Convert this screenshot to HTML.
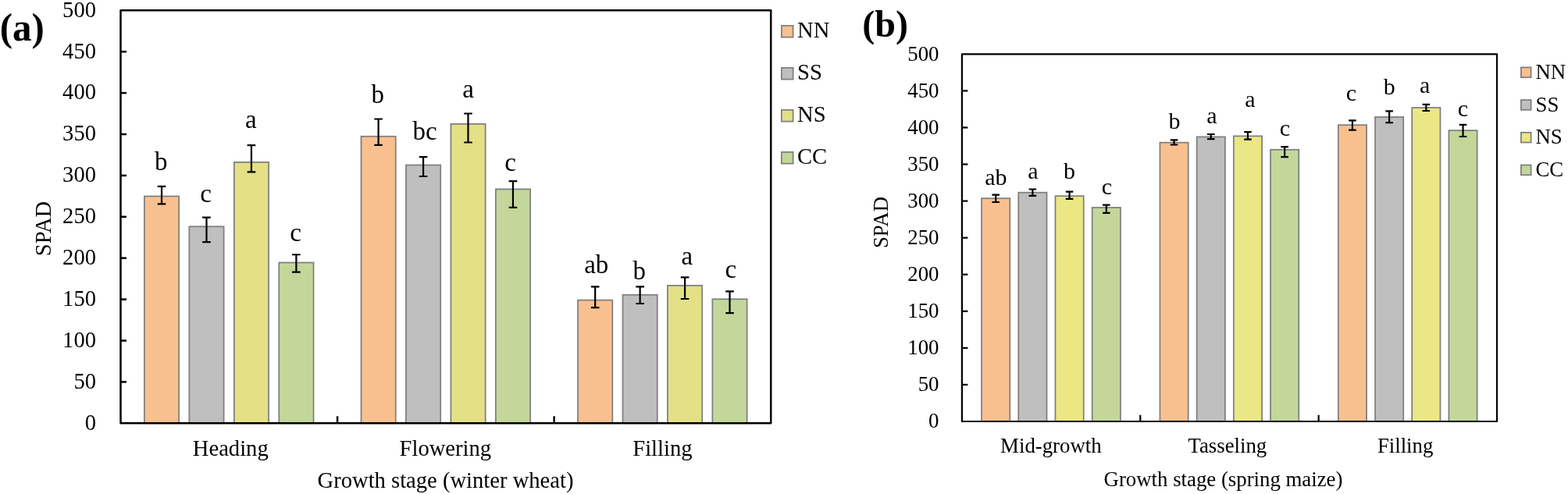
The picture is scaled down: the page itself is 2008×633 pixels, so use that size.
<!DOCTYPE html>
<html><head><meta charset="utf-8"><title>SPAD chart</title>
<style>html,body{margin:0;padding:0;background:#fff;width:2008px;height:633px;overflow:hidden}svg{display:block}</style>
</head><body>
<svg width="2008" height="633" viewBox="0 0 2008 633" font-family="'Liberation Serif', 'Times New Roman', serif" fill="#000">
<rect width="2008" height="633" fill="#fff"/>
<rect x="184.91" y="251.47" width="44.25" height="290.82" fill="#F9C08F" stroke="#7F7F7F" stroke-width="1.75"/>
<rect x="242.36" y="290.27" width="44.25" height="252.02" fill="#BFBFBF" stroke="#7F7F7F" stroke-width="1.75"/>
<rect x="299.81" y="207.88" width="44.25" height="334.42" fill="#E3E086" stroke="#7F7F7F" stroke-width="1.75"/>
<rect x="357.26" y="336.48" width="44.25" height="205.82" fill="#C3D79B" stroke="#7F7F7F" stroke-width="1.75"/>
<rect x="462.48" y="174.78" width="44.25" height="367.52" fill="#F9C08F" stroke="#7F7F7F" stroke-width="1.75"/>
<rect x="519.93" y="211.47" width="44.25" height="330.82" fill="#BFBFBF" stroke="#7F7F7F" stroke-width="1.75"/>
<rect x="577.38" y="158.88" width="44.25" height="383.42" fill="#E3E086" stroke="#7F7F7F" stroke-width="1.75"/>
<rect x="634.83" y="242.38" width="44.25" height="299.92" fill="#C3D79B" stroke="#7F7F7F" stroke-width="1.75"/>
<rect x="740.04" y="384.57" width="44.25" height="157.72" fill="#F9C08F" stroke="#7F7F7F" stroke-width="1.75"/>
<rect x="797.49" y="377.77" width="44.25" height="164.52" fill="#BFBFBF" stroke="#7F7F7F" stroke-width="1.75"/>
<rect x="854.94" y="365.88" width="44.25" height="176.42" fill="#E3E086" stroke="#7F7F7F" stroke-width="1.75"/>
<rect x="912.39" y="383.27" width="44.25" height="159.02" fill="#C3D79B" stroke="#7F7F7F" stroke-width="1.75"/>
<path d="M201.73 238.90H212.33M207.03 238.90V261.30M201.73 261.30H212.33" stroke="#000" stroke-width="2.2" fill="none"/>
<text x="206.20" y="217.50" text-anchor="middle" font-size="33">b</text>
<path d="M259.18 278.70H269.78M264.48 278.70V310.10M259.18 310.10H269.78" stroke="#000" stroke-width="2.2" fill="none"/>
<text x="263.70" y="258.80" text-anchor="middle" font-size="33">c</text>
<path d="M316.63 186.05H327.23M321.93 186.05V220.40M316.63 220.40H327.23" stroke="#000" stroke-width="2.2" fill="none"/>
<text x="321.30" y="163.90" text-anchor="middle" font-size="33">a</text>
<path d="M374.08 326.25H384.68M379.38 326.25V348.70M374.08 348.70H384.68" stroke="#000" stroke-width="2.2" fill="none"/>
<text x="378.70" y="308.80" text-anchor="middle" font-size="33">c</text>
<path d="M479.30 152.50H489.90M484.60 152.50V185.80M479.30 185.80H489.90" stroke="#000" stroke-width="2.2" fill="none"/>
<text x="483.80" y="131.60" text-anchor="middle" font-size="33">b</text>
<path d="M536.75 201.20H547.35M542.05 201.20V226.00M536.75 226.00H547.35" stroke="#000" stroke-width="2.2" fill="none"/>
<text x="544.20" y="178.50" text-anchor="middle" font-size="33">bc</text>
<path d="M594.20 145.50H604.80M599.50 145.50V182.50M594.20 182.50H604.80" stroke="#000" stroke-width="2.2" fill="none"/>
<text x="599.60" y="125.00" text-anchor="middle" font-size="33">a</text>
<path d="M651.65 232.10H662.25M656.95 232.10V265.90M651.65 265.90H662.25" stroke="#000" stroke-width="2.2" fill="none"/>
<text x="653.60" y="218.80" text-anchor="middle" font-size="33">c</text>
<path d="M756.87 367.40H767.47M762.17 367.40V394.10M756.87 394.10H767.47" stroke="#000" stroke-width="2.2" fill="none"/>
<text x="763.80" y="349.80" text-anchor="middle" font-size="33">ab</text>
<path d="M814.32 367.40H824.92M819.62 367.40V389.00M814.32 389.00H824.92" stroke="#000" stroke-width="2.2" fill="none"/>
<text x="818.70" y="358.30" text-anchor="middle" font-size="33">b</text>
<path d="M871.77 355.30H882.37M877.07 355.30V383.00M871.77 383.00H882.37" stroke="#000" stroke-width="2.2" fill="none"/>
<text x="879.80" y="339.40" text-anchor="middle" font-size="33">a</text>
<path d="M929.22 373.40H939.82M934.52 373.40V401.20M929.22 401.20H939.82" stroke="#000" stroke-width="2.2" fill="none"/>
<text x="935.80" y="355.50" text-anchor="middle" font-size="33">c</text>
<path d="M154.50 13.30H987.20V542.30H154.50Z" stroke="#000" stroke-width="2.5" fill="none" stroke-linejoin="round"/>
<text x="123.00" y="550.60" text-anchor="end" font-size="28.6">0</text>
<path d="M154.50 489.40H162.00" stroke="#000" stroke-width="2.5"/>
<text x="123.00" y="497.70" text-anchor="end" font-size="28.6">50</text>
<path d="M154.50 436.50H162.00" stroke="#000" stroke-width="2.5"/>
<text x="123.00" y="444.80" text-anchor="end" font-size="28.6">100</text>
<path d="M154.50 383.60H162.00" stroke="#000" stroke-width="2.5"/>
<text x="123.00" y="391.90" text-anchor="end" font-size="28.6">150</text>
<path d="M154.50 330.70H162.00" stroke="#000" stroke-width="2.5"/>
<text x="123.00" y="339.00" text-anchor="end" font-size="28.6">200</text>
<path d="M154.50 277.80H162.00" stroke="#000" stroke-width="2.5"/>
<text x="123.00" y="286.10" text-anchor="end" font-size="28.6">250</text>
<path d="M154.50 224.90H162.00" stroke="#000" stroke-width="2.5"/>
<text x="123.00" y="233.20" text-anchor="end" font-size="28.6">300</text>
<path d="M154.50 172.00H162.00" stroke="#000" stroke-width="2.5"/>
<text x="123.00" y="180.30" text-anchor="end" font-size="28.6">350</text>
<path d="M154.50 119.10H162.00" stroke="#000" stroke-width="2.5"/>
<text x="123.00" y="127.40" text-anchor="end" font-size="28.6">400</text>
<path d="M154.50 66.20H162.00" stroke="#000" stroke-width="2.5"/>
<text x="123.00" y="74.50" text-anchor="end" font-size="28.6">450</text>
<text x="123.00" y="21.60" text-anchor="end" font-size="28.6">500</text>
<path d="M432.07 542.30V533.30" stroke="#000" stroke-width="2.5"/>
<path d="M709.63 542.30V533.30" stroke="#000" stroke-width="2.5"/>
<text x="295.28" y="583.80" text-anchor="middle" font-size="28.6">Heading</text>
<text x="570.35" y="583.80" text-anchor="middle" font-size="28.6">Flowering</text>
<text x="848.42" y="583.80" text-anchor="middle" font-size="28.6">Filling</text>
<text x="570.50" y="625.00" text-anchor="middle" font-size="28.6" xml:space="preserve">Growth stage (winter wheat)</text>
<text x="0" y="0" transform="translate(65.00,293.00) rotate(-90)" text-anchor="middle" font-size="28.6">SPAD</text>
<rect x="1000.88" y="32.88" width="14.75" height="14.75" fill="#F9C08F" stroke="#7F7F7F" stroke-width="1.75"/>
<text x="1021.00" y="47.80" font-size="28.6">NN</text>
<rect x="1000.88" y="86.88" width="14.75" height="14.75" fill="#BFBFBF" stroke="#7F7F7F" stroke-width="1.75"/>
<text x="1021.00" y="101.80" font-size="28.6">SS</text>
<rect x="1000.88" y="140.88" width="14.75" height="14.75" fill="#E3E086" stroke="#7F7F7F" stroke-width="1.75"/>
<text x="1021.00" y="155.80" font-size="28.6">NS</text>
<rect x="1000.88" y="194.88" width="14.75" height="14.75" fill="#C3D79B" stroke="#7F7F7F" stroke-width="1.75"/>
<text x="1021.00" y="209.80" font-size="28.6">CC</text>
<text x="0" y="0" transform="translate(-0.30,51.90) scale(0.98,1)" font-size="50" font-weight="bold">(a)</text>
<rect x="1257.06" y="254.18" width="36.25" height="285.82" fill="#F9C08F" stroke="#7F7F7F" stroke-width="1.75"/>
<rect x="1304.26" y="246.68" width="36.25" height="293.32" fill="#BFBFBF" stroke="#7F7F7F" stroke-width="1.75"/>
<rect x="1351.46" y="251.18" width="36.25" height="288.82" fill="#EAE784" stroke="#7F7F7F" stroke-width="1.75"/>
<rect x="1398.66" y="265.98" width="36.25" height="274.02" fill="#C3D79B" stroke="#7F7F7F" stroke-width="1.75"/>
<rect x="1485.42" y="182.68" width="36.25" height="357.32" fill="#F9C08F" stroke="#7F7F7F" stroke-width="1.75"/>
<rect x="1532.62" y="175.38" width="36.25" height="364.62" fill="#BFBFBF" stroke="#7F7F7F" stroke-width="1.75"/>
<rect x="1579.83" y="174.38" width="36.25" height="365.62" fill="#EAE784" stroke="#7F7F7F" stroke-width="1.75"/>
<rect x="1627.03" y="191.78" width="36.25" height="348.23" fill="#C3D79B" stroke="#7F7F7F" stroke-width="1.75"/>
<rect x="1713.79" y="160.18" width="36.25" height="379.82" fill="#F9C08F" stroke="#7F7F7F" stroke-width="1.75"/>
<rect x="1760.99" y="149.97" width="36.25" height="390.02" fill="#BFBFBF" stroke="#7F7F7F" stroke-width="1.75"/>
<rect x="1808.19" y="137.97" width="36.25" height="402.02" fill="#EAE784" stroke="#7F7F7F" stroke-width="1.75"/>
<rect x="1855.39" y="167.18" width="36.25" height="372.82" fill="#C3D79B" stroke="#7F7F7F" stroke-width="1.75"/>
<path d="M1270.38 249.70H1279.98M1275.18 249.70V259.00M1270.38 259.00H1279.98" stroke="#000" stroke-width="2.2" fill="none"/>
<text x="1275.30" y="237.00" text-anchor="middle" font-size="30">ab</text>
<path d="M1317.58 242.50H1327.18M1322.38 242.50V250.90M1317.58 250.90H1327.18" stroke="#000" stroke-width="2.2" fill="none"/>
<text x="1322.90" y="229.40" text-anchor="middle" font-size="30">a</text>
<path d="M1364.78 245.60H1374.38M1369.58 245.60V254.80M1364.78 254.80H1374.38" stroke="#000" stroke-width="2.2" fill="none"/>
<text x="1369.40" y="229.40" text-anchor="middle" font-size="30">b</text>
<path d="M1411.98 262.70H1421.58M1416.78 262.70V272.90M1411.98 272.90H1421.58" stroke="#000" stroke-width="2.2" fill="none"/>
<text x="1417.40" y="249.00" text-anchor="middle" font-size="30">c</text>
<path d="M1498.75 179.40H1508.35M1503.55 179.40V185.50M1498.75 185.50H1508.35" stroke="#000" stroke-width="2.2" fill="none"/>
<text x="1504.00" y="165.10" text-anchor="middle" font-size="30">b</text>
<path d="M1545.95 172.00H1555.55M1550.75 172.00V178.20M1545.95 178.20H1555.55" stroke="#000" stroke-width="2.2" fill="none"/>
<text x="1552.00" y="157.80" text-anchor="middle" font-size="30">a</text>
<path d="M1593.15 169.20H1602.75M1597.95 169.20V178.70M1593.15 178.70H1602.75" stroke="#000" stroke-width="2.2" fill="none"/>
<text x="1601.00" y="137.30" text-anchor="middle" font-size="30">a</text>
<path d="M1640.35 188.20H1649.95M1645.15 188.20V201.10M1640.35 201.10H1649.95" stroke="#000" stroke-width="2.2" fill="none"/>
<text x="1645.40" y="173.70" text-anchor="middle" font-size="30">c</text>
<path d="M1727.12 154.30H1736.72M1731.92 154.30V166.70M1727.12 166.70H1736.72" stroke="#000" stroke-width="2.2" fill="none"/>
<text x="1730.50" y="129.10" text-anchor="middle" font-size="30">c</text>
<path d="M1774.32 142.30H1783.92M1779.12 142.30V157.10M1774.32 157.10H1783.92" stroke="#000" stroke-width="2.2" fill="none"/>
<text x="1779.20" y="120.70" text-anchor="middle" font-size="30">b</text>
<path d="M1821.52 133.80H1831.12M1826.32 133.80V142.00M1821.52 142.00H1831.12" stroke="#000" stroke-width="2.2" fill="none"/>
<text x="1824.70" y="118.90" text-anchor="middle" font-size="30">a</text>
<path d="M1868.72 159.90H1878.32M1873.52 159.90V175.00M1868.72 175.00H1878.32" stroke="#000" stroke-width="2.2" fill="none"/>
<text x="1873.50" y="148.90" text-anchor="middle" font-size="30">c</text>
<path d="M1231.90 69.30H1917.00V540.00H1231.90Z" stroke="#000" stroke-width="2.2" fill="none" stroke-linejoin="round"/>
<text x="1202.50" y="548.20" text-anchor="end" font-size="26.8">0</text>
<path d="M1231.90 492.93H1239.40" stroke="#000" stroke-width="2.2"/>
<text x="1202.50" y="501.13" text-anchor="end" font-size="26.8">50</text>
<path d="M1231.90 445.86H1239.40" stroke="#000" stroke-width="2.2"/>
<text x="1202.50" y="454.06" text-anchor="end" font-size="26.8">100</text>
<path d="M1231.90 398.79H1239.40" stroke="#000" stroke-width="2.2"/>
<text x="1202.50" y="406.99" text-anchor="end" font-size="26.8">150</text>
<path d="M1231.90 351.72H1239.40" stroke="#000" stroke-width="2.2"/>
<text x="1202.50" y="359.92" text-anchor="end" font-size="26.8">200</text>
<path d="M1231.90 304.65H1239.40" stroke="#000" stroke-width="2.2"/>
<text x="1202.50" y="312.85" text-anchor="end" font-size="26.8">250</text>
<path d="M1231.90 257.58H1239.40" stroke="#000" stroke-width="2.2"/>
<text x="1202.50" y="265.78" text-anchor="end" font-size="26.8">300</text>
<path d="M1231.90 210.51H1239.40" stroke="#000" stroke-width="2.2"/>
<text x="1202.50" y="218.71" text-anchor="end" font-size="26.8">350</text>
<path d="M1231.90 163.44H1239.40" stroke="#000" stroke-width="2.2"/>
<text x="1202.50" y="171.64" text-anchor="end" font-size="26.8">400</text>
<path d="M1231.90 116.37H1239.40" stroke="#000" stroke-width="2.2"/>
<text x="1202.50" y="124.57" text-anchor="end" font-size="26.8">450</text>
<text x="1202.50" y="77.50" text-anchor="end" font-size="26.8">500</text>
<path d="M1460.27 540.00V531.80" stroke="#000" stroke-width="2.2"/>
<path d="M1688.63 540.00V531.80" stroke="#000" stroke-width="2.2"/>
<text x="1345.88" y="579.50" text-anchor="middle" font-size="26.8">Mid-growth</text>
<text x="1571.85" y="579.50" text-anchor="middle" font-size="26.8">Tasseling</text>
<text x="1799.62" y="579.50" text-anchor="middle" font-size="26.8">Filling</text>
<text x="1566.50" y="622.50" text-anchor="middle" font-size="26.8" xml:space="preserve">Growth stage (spring maize)</text>
<text x="0" y="0" transform="translate(1137.40,285.00) rotate(-90)" text-anchor="middle" font-size="26.8">SPAD</text>
<rect x="1947.88" y="86.38" width="12.75" height="12.75" fill="#F9C08F" stroke="#7F7F7F" stroke-width="1.75"/>
<text x="1966.50" y="101.00" font-size="26.8">NN</text>
<rect x="1947.88" y="128.07" width="12.75" height="12.75" fill="#BFBFBF" stroke="#7F7F7F" stroke-width="1.75"/>
<text x="1966.50" y="142.70" font-size="26.8">SS</text>
<rect x="1947.88" y="169.78" width="12.75" height="12.75" fill="#EAE784" stroke="#7F7F7F" stroke-width="1.75"/>
<text x="1966.50" y="184.40" font-size="26.8">NS</text>
<rect x="1947.88" y="211.48" width="12.75" height="12.75" fill="#C3D79B" stroke="#7F7F7F" stroke-width="1.75"/>
<text x="1966.50" y="226.10" font-size="26.8">CC</text>
<text x="0" y="0" transform="translate(1104.30,47.20) scale(0.97,1)" font-size="49.5" font-weight="bold">(b)</text>
</svg>
</body></html>
